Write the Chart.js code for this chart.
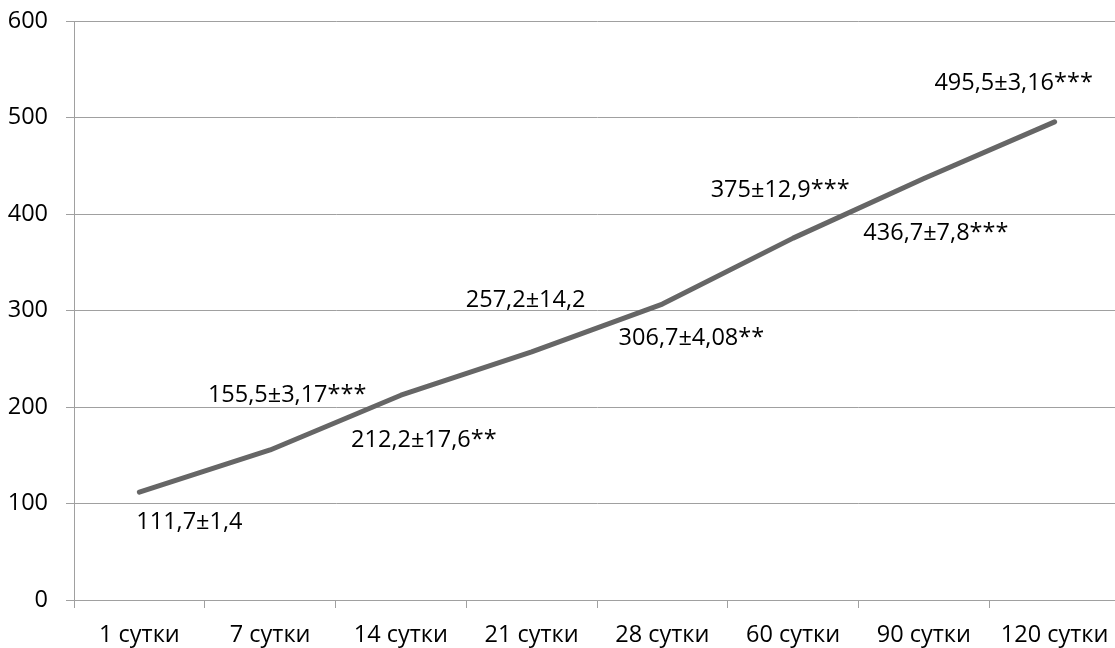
<!DOCTYPE html>
<html>
<head>
<meta charset="utf-8">
<script src="https://cdn.jsdelivr.net/npm/chart.js@4"></script>
<style>
  html, body { margin: 0; padding: 0; background: #fff; overflow: hidden; }
  #wrap { width: 1121px; height: 648px; position: relative; }
</style>
</head>
<body>
<div id="wrap"><canvas id="c"></canvas></div>
<script>
// ---- data ----
const categories = ['1 сутки', '7 сутки', '14 сутки', '21 сутки', '28 сутки', '60 сутки', '90 сутки', '120 сутки'];
const means = [111.7, 155.5, 212.2, 257.2, 306.7, 375, 436.7, 495.5];
const errors = [1.4, 3.17, 17.6, 14.2, 4.08, 12.9, 7.8, 3.16];
const significance = ['', '***', '**', '', '**', '***', '***', '***'];
const yTicks = [0, 100, 200, 300, 400, 500, 600];

const FONT = '"Open Sans", "Liberation Sans", sans-serif';
const FS = 23.5;

function fmt(v) { return String(v).replace('.', ','); }
const pointLabels = means.map((m, i) => fmt(m) + '±' + fmt(errors[i]) + significance[i]);

// label placement relative to each point (dx, dy of text centre)
const labelOffsets = [[50, 28], [17, -56], [23, 43], [-6, -53], [29, 32], [-13, -50], [12, 53], [-41, -40]];

const labelPlugin = {
  id: 'pointText',
  afterDatasetsDraw(chart) {
    const ctx = chart.ctx;
    const meta = chart.getDatasetMeta(0);
    ctx.save();
    ctx.font = FS + 'px ' + FONT;
    ctx.fillStyle = '#000';
    ctx.textAlign = 'center';
    ctx.textBaseline = 'alphabetic';
    meta.data.forEach((pt, i) => {
      const [dx, dy] = labelOffsets[i];
      ctx.fillText(pointLabels[i], pt.x + dx, pt.y + dy + 8.5);
    });
    ctx.restore();
  }
};

new Chart(document.getElementById('c'), {
  type: 'line',
  data: {
    labels: categories,
    datasets: [{
      data: means,
      borderColor: '#666666',
      borderWidth: 5,
      borderCapStyle: 'round',
      borderJoinStyle: 'round',
      pointRadius: 0,
      pointHoverRadius: 0,
      tension: 0,
      fill: false
    }]
  },
  options: {
    responsive: true,
    maintainAspectRatio: false,
    animation: false,
    events: [],
    layout: { padding: { top: 21, right: 1, left: 0, bottom: 0 } },
    plugins: { legend: { display: false }, tooltip: { enabled: false }, title: { display: false } },
    scales: {
      x: {
        type: 'category',
        offset: true,
        afterFit(scale) { scale.height = 48; scale.paddingLeft = 0; scale.paddingRight = 0; },
        grid: {
          offset: true,
          drawOnChartArea: false,
          drawTicks: true,
          tickLength: 8,
          color: '#a0a0a0',
          lineWidth: 1
        },
        border: { display: true, color: '#a0a0a0', width: 1 },
        ticks: {
          color: '#000',
          font: { family: FONT, size: FS },
          padding: 13,
          maxRotation: 0,
          autoSkip: false
        }
      },
      y: {
        min: yTicks[0],
        max: yTicks[yTicks.length - 1],
        afterFit(scale) { scale.width = 74; scale.paddingTop = 0; scale.paddingBottom = 0; },
        afterBuildTicks(scale) { scale.ticks = yTicks.map(v => ({ value: v })); },
        grid: {
          color: '#a0a0a0',
          lineWidth: 1,
          drawTicks: true,
          tickLength: 8
        },
        border: { display: true, color: '#a0a0a0', width: 1 },
        ticks: {
          color: '#000',
          font: { family: FONT, size: FS },
          padding: 18
        }
      }
    }
  },
  plugins: [labelPlugin]
});
</script>
</body>
</html>
